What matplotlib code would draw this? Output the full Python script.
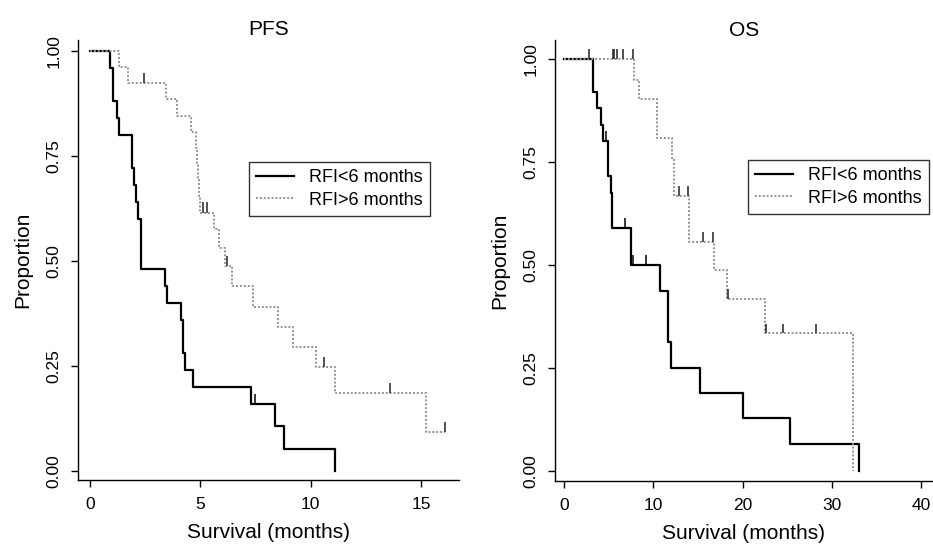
import matplotlib.pyplot as plt

plt.rcParams['font.family'] = ['Liberation Sans', 'DejaVu Sans']

# ---- PFS : step times (months) and survival after each step ----
pfs_lt_t = [0, 0.91, 1.03, 1.21, 1.33, 1.92, 2.0, 2.07, 2.19, 2.31, 3.38, 3.49,
            4.11, 4.2, 4.3, 4.68, 7.28, 8.4, 8.79, 11.1]
pfs_lt_s = [1.0, 0.96, 0.88, 0.84, 0.80, 0.72, 0.68, 0.64, 0.60, 0.48, 0.44, 0.40,
            0.36, 0.28, 0.24, 0.20, 0.16, 0.107, 0.053, 0.0]
pfs_lt_cens_t = [7.5]
pfs_lt_cens_s = [0.16]

pfs_gt_t = [0, 1.33, 1.74, 3.43, 3.93, 4.6, 4.8, 4.85, 4.9, 4.95, 5.0, 5.62, 5.85,
            6.12, 6.42, 7.37, 8.5, 9.21, 10.22, 11.1, 15.22, 16.1]
pfs_gt_s = [1.0, 0.962, 0.923, 0.885, 0.846, 0.808, 0.769, 0.731, 0.692, 0.654, 0.615,
            0.575, 0.53, 0.487, 0.44, 0.391, 0.342, 0.294, 0.246, 0.185, 0.093, 0.093]
pfs_gt_cens_t = [2.45, 5.1, 5.29, 6.2, 10.6, 13.6, 16.1]
pfs_gt_cens_s = [0.923, 0.615, 0.615, 0.487, 0.246, 0.185, 0.093]

# ---- OS ----
os_lt_t = [0, 3.28, 3.66, 4.1, 4.4, 4.96, 5.23, 5.41, 7.54, 10.75, 11.6, 11.95,
           15.23, 20.08, 25.3, 33.0]
os_lt_s = [1.0, 0.921, 0.88, 0.84, 0.80, 0.717, 0.674, 0.59, 0.50, 0.437, 0.314, 0.25,
           0.19, 0.128, 0.066, 0.0]
os_lt_cens_t = [4.67, 6.87, 7.76, 9.15]
os_lt_cens_s = [0.80, 0.59, 0.50, 0.50]

os_gt_t = [0, 7.88, 8.43, 10.38, 12.06, 12.35, 14.05, 16.8, 18.2, 22.5, 32.4]
os_gt_s = [1.0, 0.95, 0.903, 0.809, 0.76, 0.667, 0.557, 0.488, 0.418, 0.334, 0.0]
os_gt_cens_t = [2.84, 5.45, 5.63, 5.9, 6.57, 7.76, 12.9, 13.85, 15.6, 16.7, 18.4,
                22.6, 24.5, 28.2]
os_gt_cens_s = [1, 1, 1, 1, 1, 1, 0.667, 0.667, 0.557, 0.557, 0.418, 0.334, 0.334, 0.334]

labels = ['RFI<6 months', 'RFI>6 months']
y_ticks = [0, 0.25, 0.5, 0.75, 1.0]
y_ticklabels = ['0.00', '0.25', '0.50', '0.75', '1.00']

fig = plt.figure(figsize=(9.33, 5.44), dpi=100)
ax1 = fig.add_axes([78/933, 64/544, 380.6/933, 440/544])
ax2 = fig.add_axes([555/933, 63/544, 378/933, 441/544])


def km_panel(ax, lt, gt, title, title_pad, xticks, xlim, ylim, leg_anchor):
    t, s, ct, cs = lt
    ax.step(t, s, where='post', color='black', lw=1.6, label=labels[0], zorder=2)
    ax.vlines(ct, cs, [v + 0.024 for v in cs], color='black', lw=1.1, zorder=3)
    t, s, ct, cs = gt
    ax.step(t, s, where='post', color='#929292', lw=1.4, ls=(0, (1, 1)),
            label=labels[1], zorder=2)
    ax.vlines(ct, cs, [v + 0.024 for v in cs], color='#222222', lw=1.1, zorder=3)

    ax.set_xlim(*xlim)
    ax.set_ylim(*ylim)
    ax.set_xticks(xticks)
    ax.set_yticks(y_ticks)
    ax.set_yticklabels(y_ticklabels, rotation=90, va='center')
    ax.spines['top'].set_visible(False)
    ax.spines['right'].set_visible(False)
    for sp in ['left', 'bottom']:
        ax.spines[sp].set_linewidth(1.0)
    ax.tick_params(direction='out', length=5, width=1, labelsize=12.5, pad=7)
    ax.set_xlabel('Survival (months)', fontsize=15, labelpad=8)
    ax.set_ylabel('Proportion', fontsize=15, labelpad=10)
    ax.set_title(title, fontsize=15, pad=title_pad)
    leg = ax.legend(loc='upper left', bbox_to_anchor=leg_anchor, fontsize=13,
                    frameon=True, fancybox=False, handlelength=2.1,
                    borderpad=0.4, labelspacing=0.3, handletextpad=0.83,
                    borderaxespad=0)
    leg.get_frame().set_edgecolor('black')
    leg.get_frame().set_linewidth(1.0)


km_panel(ax1, (pfs_lt_t, pfs_lt_s, pfs_lt_cens_t, pfs_lt_cens_s),
         (pfs_gt_t, pfs_gt_s, pfs_gt_cens_t, pfs_gt_cens_s),
         'PFS', 3.5, [0, 5, 10, 15], (-0.54, 16.7), (-0.022, 1.026), (0.449, 0.7227))
km_panel(ax2, (os_lt_t, os_lt_s, os_lt_cens_t, os_lt_cens_s),
         (os_gt_t, os_gt_s, os_gt_cens_t, os_gt_cens_s),
         'OS', -2.5, [0, 10, 20, 30, 40], (-1.0, 41.3), (-0.024, 1.046), (0.511, 0.728))

fig.savefig('out.png', dpi=100)
